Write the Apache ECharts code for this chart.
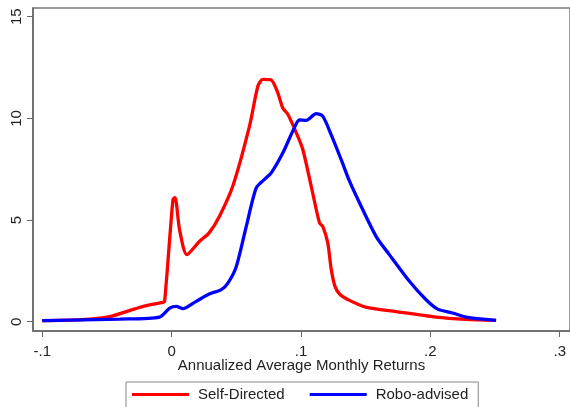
<!DOCTYPE html>
<html>
<head>
<meta charset="utf-8">
<script src="https://cdn.jsdelivr.net/npm/echarts@6/dist/echarts.min.js"></script>
<style>
  html, body { margin: 0; padding: 0; background: #fff; }
  #chart { width: 570px; height: 407px; }
</style>
</head>
<body>
<div id="chart"></div>
<script>
// Kernel density of annualized average monthly returns, by account type
const selfDirectedX = [-0.100, -0.070, -0.048, -0.032, -0.0196, -0.0067, -0.0054, 0.0010, 0.0025, 0.0036, 0.0062, 0.0118,
  0.0216, 0.0290, 0.0370, 0.0473, 0.0602, 0.0667, 0.0705, 0.0770, 0.0820, 0.0860, 0.0898, 0.0963, 0.1014,
  0.1090, 0.1143, 0.1168, 0.1207, 0.1233, 0.1262, 0.1300, 0.1375, 0.1500, 0.1735, 0.2044, 0.2276, 0.2508];
const selfDirectedY = [0.05, 0.10, 0.25, 0.56, 0.79, 0.95, 1.00, 6.00, 6.10, 5.86, 4.50, 3.30,
  3.96, 4.37, 5.19, 6.67, 9.62, 11.59, 11.92, 11.89, 11.27, 10.50, 10.20, 9.30, 8.47,
  6.34, 4.86, 4.69, 3.88, 2.60, 1.75, 1.35, 1.05, 0.72, 0.50, 0.23, 0.12, 0.07];

const roboX = [-0.100, -0.040, -0.0093, -0.0015, 0.0036, 0.0087, 0.0190, 0.0290, 0.0384, 0.0435, 0.0500,
  0.0577, 0.0654, 0.0718, 0.0770, 0.0860, 0.0937, 0.0988, 0.1040, 0.1117, 0.1168, 0.1233, 0.1310,
  0.1375, 0.1452, 0.1580, 0.1683, 0.1838, 0.1967, 0.2056, 0.2172, 0.2276, 0.2508];
const roboY = [0.05, 0.13, 0.23, 0.67, 0.75, 0.64, 1.00, 1.36, 1.58, 1.90, 2.72,
  4.69, 6.58, 7.00, 7.32, 8.31, 9.38, 9.92, 9.90, 10.23, 10.11, 9.20, 7.98,
  6.91, 5.85, 4.20, 3.30, 1.99, 1.08, 0.62, 0.43, 0.23, 0.07];

const xTicks = [-0.1, 0, 0.1, 0.2, 0.3];
const yTicks = [0, 5, 10, 15];
const seriesNames = ['Self-Directed', 'Robo-advised'];

const zip = (xs, ys) => xs.map((x, i) => [x, ys[i]]);
const fmtX = v => {
  const r = Math.round(v * 10) / 10;
  if (r === 0) return '0';
  return (r < 0 ? '-' : '') + String(Math.abs(r)).replace(/^0/, '');
};

const chart = echarts.init(document.getElementById('chart'), null, { renderer: 'canvas' });
const font = 'Liberation Sans, Arial, sans-serif';

chart.setOption({
  animation: false,
  backgroundColor: '#fff',
  grid: {
    left: 33, top: 8, right: -2, bottom: 76,
    show: true, borderColor: '#777', borderWidth: 1.5, backgroundColor: '#fff'
  },
  xAxis: {
    type: 'value',
    min: -0.10716, max: 0.30793,
    name: 'Annualized Average Monthly Returns',
    nameLocation: 'middle',
    nameGap: 27,
    nameMoveOverlap: false,
    nameTextStyle: { fontFamily: font, fontSize: 15, color: '#222' },
    splitLine: { show: false },
    axisLine: { show: true, onZero: false, lineStyle: { color: '#666', width: 1.5 } },
    axisTick: { show: true, length: 6, customValues: xTicks, lineStyle: { color: '#666', width: 1 } },
    axisLabel: { customValues: xTicks, formatter: fmtX, margin: 13, fontFamily: font, fontSize: 15, color: '#222' }
  },
  yAxis: {
    type: 'value',
    min: -0.457, max: 15.43,
    splitLine: { show: false },
    axisLine: { show: true, onZero: false, lineStyle: { color: '#666', width: 1.5 } },
    axisTick: { show: true, length: 6, customValues: yTicks, lineStyle: { color: '#666', width: 1 } },
    axisLabel: { customValues: yTicks, rotate: 90, margin: 8.5, fontFamily: font, fontSize: 15, color: '#222' }
  },
  legend: {
    data: seriesNames,
    left: 126, top: 382,
    padding: [5, 10, 6, 6],
    borderColor: '#888', borderWidth: 1,
    icon: 'rect', itemWidth: 57, itemHeight: 3, itemGap: 25,
    textStyle: { fontFamily: font, fontSize: 15, color: '#222', padding: [0, 0, 0, 4] }
  },
  series: [
    {
      name: seriesNames[0], type: 'line', data: zip(selfDirectedX, selfDirectedY),
      smooth: 0.25, showSymbol: false, color: '#ff0000',
      lineStyle: { color: '#ff0000', width: 3.3 }, z: 2
    },
    {
      name: seriesNames[1], type: 'line', data: zip(roboX, roboY),
      smooth: 0.25, showSymbol: false, color: '#0000ff',
      lineStyle: { color: '#0000ff', width: 3.3 }, z: 3
    }
  ]
});
</script>
</body>
</html>
